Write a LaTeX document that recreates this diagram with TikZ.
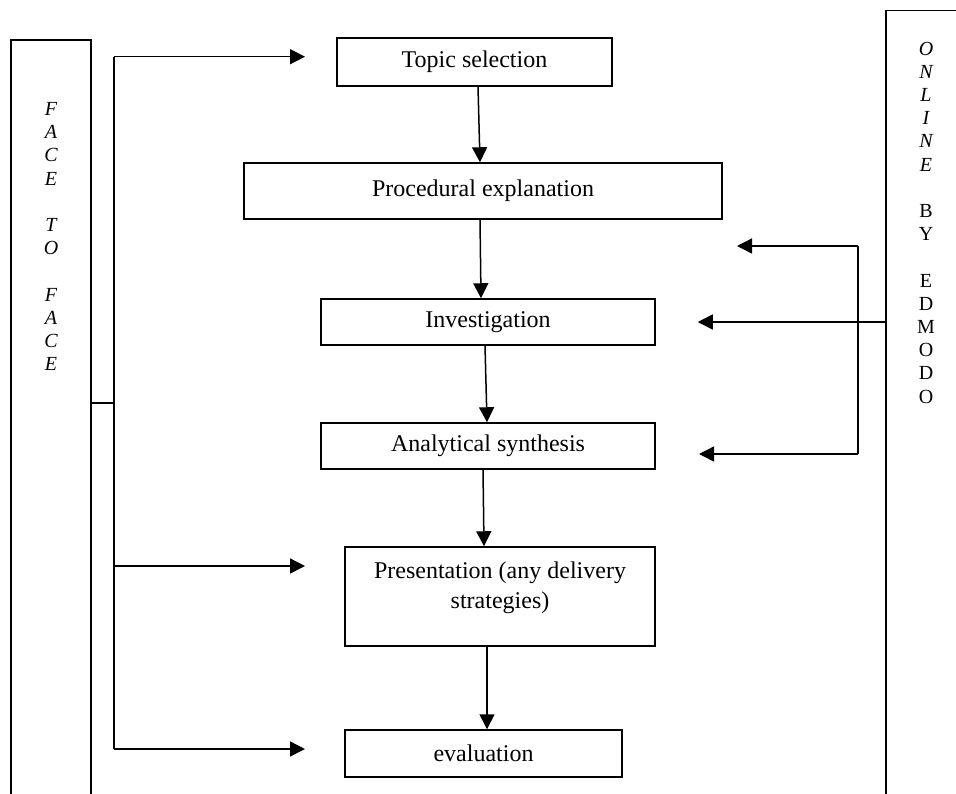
\documentclass[tikz,border=0pt]{standalone}
\usepackage{fontspec}
\setmainfont{Liberation Serif}
\usetikzlibrary{positioning,arrows.meta}

\tikzset{
  stage/.style={draw, line width=0.75pt, inner sep=0pt, align=center,
    font=\fontsize{12}{14.7}\selectfont},
  lane/.style={draw, line width=0.75pt, inner sep=0pt},
  letters/.style={inner sep=0pt, align=center, anchor=north},
  flow/.style={line width=0.75pt, -{Triangle[length=7.5pt,width=7.5pt]}},
  link/.style={line width=0.75pt}
}

\begin{document}
\begin{tikzpicture}[x=0.5pt, y=-0.5pt]
\useasboundingbox (0,0) rectangle (956,793);
\clip (0,0) rectangle (956,793);

% side lanes
\node[lane, minimum width=40pt, minimum height=400pt] (ftfbox) at (51,440) {};
\node[lane, minimum width=57pt, minimum height=414.65pt] (onlinebox) at (943,425.35) {};
\node[letters, font=\fontsize{10}{11.6}\selectfont\itshape] (ftf) at (51,102)
  {F\\A\\C\\E\\[11.6pt]T\\O\\[11.6pt]F\\A\\C\\E};
\node[letters, font=\fontsize{10}{11.6}\selectfont\itshape] (online) at (926,41.5)
  {O\\N\\L\\I\\N\\E\\[11.6pt]\textup{B}\\\textup{Y}\\[11.6pt]\textup{E}\\\textup{D}\\\textup{M}\\\textup{O}\\\textup{D}\\\textup{O}};

% stages
\node[stage, minimum width=137.5pt, minimum height=24pt] (topic) at (474.5,62) {Topic selection};
\node[stage, minimum width=239pt, minimum height=28pt] (proc) at (483,191) {Procedural explanation};
\node[stage, minimum width=167pt, minimum height=23pt] (invest) at (488,322) {Investigation};
\node[stage, minimum width=167pt, minimum height=23pt] (synth) at (488,446) {Analytical synthesis};
\node[stage, minimum width=155pt, minimum height=49.5pt, text depth=11.5pt] (pres) at (500,596.5)
  {Presentation (any delivery\\strategies)};
\node[stage, minimum width=138.5pt, minimum height=23.5pt] (evalu) at (483.5,753.5) {evaluation};

\draw[flow] ([xshift=1.75pt]topic.south) -- ([xshift=-1.5pt]proc.north);
\draw[flow] ([xshift=-1.5pt]proc.south) -- ([xshift=-3.5pt]invest.north);
\draw[flow] ([xshift=-1.5pt]invest.south) -- ([xshift=-0.5pt]synth.north);
\draw[flow] ([xshift=-2.5pt]synth.south) -- ([xshift=-8pt]pres.north);
\draw[flow] ([xshift=-6.5pt]pres.south) -- ([xshift=1.75pt]evalu.north);

% face to face bracket
\coordinate (ltop) at (114,56.7);
\coordinate (lmid) at (114,403);
\coordinate (lpres) at (114,566);
\coordinate (lbot) at (114,749);
\coordinate (ltip1) at (305,56.7);
\coordinate (ltip2) at (305,566);
\coordinate (ltip3) at (305,749);
\draw[link] (ltop) -- (lbot);
\draw[link] (ftfbox.east |- lmid) -- (lmid);
\draw[flow] (ltop) -- (ltip1);
\draw[flow] (lpres) -- (ltip2);
\draw[flow] (lbot) -- (ltip3);

% online bracket
\coordinate (rtop) at (858,246);
\coordinate (rbot) at (858,454);
\coordinate (rtip1) at (737,246);
\coordinate (rtip3) at (699,454);
\draw[link] (rtop) -- (rbot);
\draw[flow] (rtop) -- (rtip1);
\draw[flow] (onlinebox.west |- invest) -- ([xshift=21pt]invest.east);
\draw[flow] (rbot) -- (rtip3);
\end{tikzpicture}
\end{document}
